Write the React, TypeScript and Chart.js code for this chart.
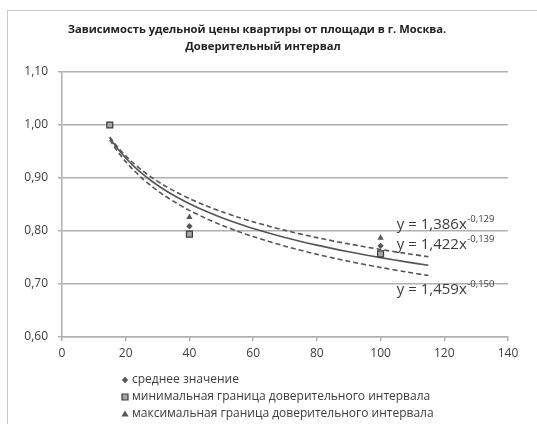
import React, { useEffect, useRef } from "react";
import { Chart, registerables } from "chart.js";

Chart.register(...registerables);

// ---- data ----
const TITLE_LINES = [
  "Зависимость удельной цены квартиры от площади в г. Москва.",
  "Доверительный интервал",
];
const AREA_X = [15, 40, 100];
const MEAN_VALUES = [1.0, 0.809, 0.772];
const MIN_VALUES = [1.0, 0.794, 0.757];
const MAX_VALUES = [1.0, 0.826, 0.787];
const SERIES_LABELS = [
  "среднее значение",
  "минимальная граница доверительного интервала",
  "максимальная граница доверительного интервала",
];
// power trendlines y = a * x^b (upper, mean, lower) as shown on the chart
const TREND_A = [1.386, 1.422, 1.459];
const TREND_B = [-0.129, -0.139, -0.15];
const TREND_X = [15, 16, 17, 18, 20, 22, 25, 28, 32, 36, 40, 45, 50, 55, 60, 70, 80, 90, 100, 108, 115];
const EQ_MAIN = ["y = 1,386x", "y = 1,422x", "y = 1,459x"];
const EQ_SUP = ["-0,129", "-0,139", "-0,150"];
const EQ_ANCHOR_X = [105.1, 105.1, 105.1];
const EQ_ANCHOR_Y = [0.8113, 0.7736, 0.6887];
const X_TICKS = [0, 20, 40, 60, 80, 100, 120, 140];
const Y_TICKS = [0.6, 0.7, 0.8, 0.9, 1.0, 1.1];

const FONT = "'Open Sans', 'DejaVu Sans', sans-serif";
const GRID = "#b0b0b0";
const DARK = "#555555";
const TEXT = "#3c3c3c";

function drawMarker(ctx: CanvasRenderingContext2D, kind: number, x: number, y: number) {
  ctx.save();
  ctx.beginPath();
  if (kind === 0) {
    const r = 3.2;
    ctx.moveTo(x, y - r);
    ctx.lineTo(x + r, y);
    ctx.lineTo(x, y + r);
    ctx.lineTo(x - r, y);
    ctx.closePath();
    ctx.fillStyle = DARK;
    ctx.fill();
  } else if (kind === 1) {
    const s = 3;
    ctx.rect(x - s, y - s, 2 * s, 2 * s);
    ctx.fillStyle = "#a6a6a6";
    ctx.fill();
    ctx.lineWidth = 1.2;
    ctx.strokeStyle = TEXT;
    ctx.stroke();
  } else {
    const r = 3.6;
    ctx.moveTo(x, y - r);
    ctx.lineTo(x + r, y + r * 0.7);
    ctx.lineTo(x - r, y + r * 0.7);
    ctx.closePath();
    ctx.fillStyle = DARK;
    ctx.fill();
  }
  ctx.restore();
}

const overlayPlugin = {
  id: "overlay",
  afterDraw(chart: any) {
    const ctx: CanvasRenderingContext2D = chart.ctx;
    ctx.save();
    // title
    ctx.fillStyle = "#222222";
    ctx.font = `bold 11.2px ${FONT}`;
    ctx.textAlign = "center";
    ctx.textBaseline = "middle";
    ctx.fillText(TITLE_LINES[0], 249, 19);
    ctx.fillText(TITLE_LINES[1], 255, 36);

    // equations
    const xs = chart.scales.x;
    const ys = chart.scales.y;
    for (let i = 0; i < EQ_MAIN.length; i++) {
      const px = xs.getPixelForValue(EQ_ANCHOR_X[i]);
      const py = ys.getPixelForValue(EQ_ANCHOR_Y[i]);
      ctx.font = `15px ${FONT}`;
      ctx.textAlign = "left";
      ctx.textBaseline = "middle";
      ctx.fillStyle = TEXT;
      ctx.fillText(EQ_MAIN[i], px, py);
      const w = ctx.measureText(EQ_MAIN[i]).width;
      ctx.font = `9.5px ${FONT}`;
      ctx.fillText(EQ_SUP[i], px + w + 0.5, py - 6);
    }

    // legend
    const rowsY = [369, 386, 403];
    for (let i = 0; i < SERIES_LABELS.length; i++) {
      drawMarker(ctx, i, 117, rowsY[i]);
      ctx.font = `12px ${FONT}`;
      ctx.textAlign = "left";
      ctx.textBaseline = "middle";
      ctx.fillStyle = TEXT;
      ctx.fillText(SERIES_LABELS[i], 124, rowsY[i]);
    }
    ctx.restore();
  },
};

export default function App() {
  const ref = useRef<HTMLCanvasElement | null>(null);

  useEffect(() => {
    if (!ref.current) return;
    const pts = (vals: number[]) => AREA_X.map((x, i) => ({ x, y: vals[i] }));
    const trend = (k: number) => TREND_X.map((x) => ({ x, y: TREND_A[k] * Math.pow(x, TREND_B[k]) }));

    const chart = new Chart(ref.current, {
      type: "scatter",
      data: {
        datasets: [
          {
            label: SERIES_LABELS[1],
            data: pts(MIN_VALUES),
            pointStyle: "rect",
            pointRadius: 4.2,
            backgroundColor: "#a6a6a6",
            borderColor: TEXT,
            borderWidth: 1.2,
            order: 0,
          },
          {
            label: SERIES_LABELS[0],
            data: pts(MEAN_VALUES),
            pointStyle: "rectRot",
            pointRadius: 3.2,
            backgroundColor: DARK,
            borderColor: DARK,
            borderWidth: 0,
            order: 1,
          },
          {
            label: SERIES_LABELS[2],
            data: pts(MAX_VALUES),
            pointStyle: "triangle",
            pointRadius: 3.6,
            backgroundColor: DARK,
            borderColor: DARK,
            borderWidth: 0,
            order: 2,
          },
          {
            label: "trend max",
            data: trend(0),
            showLine: true,
            pointRadius: 0,
            borderColor: DARK,
            borderWidth: 1.6,
            borderDash: [5, 3],
            tension: 0.3,
            order: 3,
          },
          {
            label: "trend mean",
            data: trend(1),
            showLine: true,
            pointRadius: 0,
            borderColor: DARK,
            borderWidth: 1.6,
            tension: 0.3,
            order: 4,
          },
          {
            label: "trend min",
            data: trend(2),
            showLine: true,
            pointRadius: 0,
            borderColor: DARK,
            borderWidth: 1.6,
            borderDash: [5, 3],
            tension: 0.3,
            order: 5,
          },
        ] as any,
      },
      options: {
        animation: false,
        responsive: false,
        devicePixelRatio: 1,
        layout: { padding: { top: 61, right: 29, bottom: 57, left: 0 } },
        plugins: {
          legend: { display: false },
          title: { display: false },
          tooltip: { enabled: false },
        },
        scales: {
          x: {
            type: "linear",
            min: 0,
            max: 140,
            afterFit: (s: any) => {
              s.height = 30;
            },
            afterBuildTicks: (s: any) => {
              s.ticks = X_TICKS.map((v) => ({ value: v }));
            },
            ticks: {
              color: TEXT,
              font: { family: FONT, size: 12 },
              padding: 5,
              maxRotation: 0,
            },
            grid: {
              display: true,
              drawOnChartArea: false,
              drawTicks: true,
              tickLength: 4,
              color: GRID,
              lineWidth: 1.5,
            },
            border: { display: true, color: GRID, width: 1.5 },
          },
          y: {
            type: "linear",
            min: 0.6,
            max: 1.1,
            afterFit: (s: any) => {
              s.width = 54;
            },
            afterBuildTicks: (s: any) => {
              s.ticks = Y_TICKS.map((v) => ({ value: v }));
            },
            ticks: {
              color: TEXT,
              font: { family: FONT, size: 12 },
              padding: 10,
              callback: (v: any) => Number(v).toFixed(2).replace(".", ","),
            },
            grid: {
              display: true,
              drawOnChartArea: true,
              drawTicks: true,
              tickLength: 4,
              color: GRID,
              lineWidth: 1.5,
            },
            border: { display: true, color: GRID, width: 1.5 },
          },
        },
      },
      plugins: [overlayPlugin],
    });
    return () => chart.destroy();
  }, []);

  return (
    <div
      style={{
        position: "fixed",
        left: 7,
        top: 10,
        width: 530,
        height: 414,
        borderTop: "1px solid #c8c8c8",
        borderLeft: "1px solid #c8c8c8",
        overflow: "hidden",
        background: "#fff",
      }}
    >
      <canvas ref={ref} width={529} height={413} style={{ display: "block" }} />
    </div>
  );
}
